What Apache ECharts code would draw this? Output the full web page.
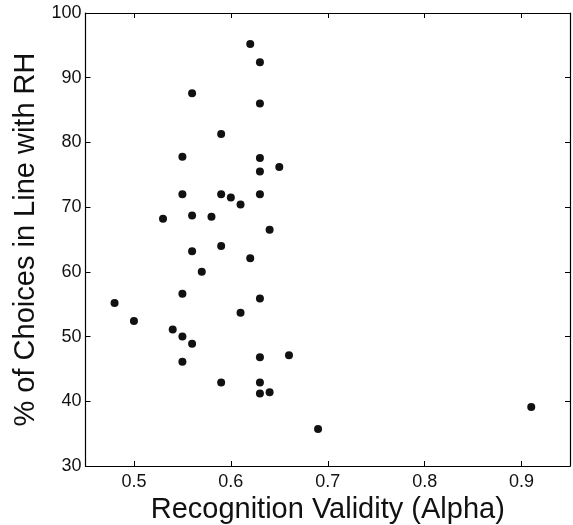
<!DOCTYPE html>
<html>
<head>
<meta charset="utf-8">
<script src="https://cdn.jsdelivr.net/npm/echarts@6/dist/echarts.min.js"></script>
<style>
  html, body { margin: 0; padding: 0; background: #fff; }
  #main { width: 573px; height: 525px; }
</style>
</head>
<body>
<div id="main"></div>
<script>
// recognition validity (alpha) vs % choices in line with RH
var alpha = [0.62, 0.63, 0.56, 0.63, 0.59, 0.55, 0.63, 0.65, 0.63, 0.55,
             0.59, 0.60, 0.61, 0.63, 0.53, 0.56, 0.58, 0.64, 0.56, 0.59,
             0.62, 0.57, 0.55, 0.48, 0.63, 0.50, 0.61, 0.54, 0.55, 0.56,
             0.55, 0.63, 0.66, 0.59, 0.63, 0.63, 0.64, 0.69, 0.91];
var pctRH = [95.2, 92.4, 87.6, 86.0, 81.3, 77.8, 77.6, 76.2, 75.5, 72.0,
             72.0, 71.5, 70.4, 72.0, 68.2, 68.7, 68.5, 66.5, 63.2, 64.0,
             62.1, 60.0, 56.6, 55.2, 55.9, 52.4, 53.7, 51.1, 50.0, 48.9,
             46.1, 46.8, 47.1, 42.9, 42.9, 41.2, 41.4, 35.7, 39.1];

var xTicks = [0.5, 0.6, 0.7, 0.8, 0.9];

var points = alpha.map(function (a, i) { return [a, pctRH[i]]; });

var font = 'Liberation Sans, Arial, Helvetica, sans-serif';
var myChart = echarts.init(document.getElementById('main'));

var boxLine = { show: true, onZero: false, lineStyle: { color: '#000', width: 1.2 } };
var yTick = { show: true, inside: true, length: 5, lineStyle: { color: '#000', width: 1 } };
var xTick = { show: true, inside: true, length: 5, customValues: xTicks, lineStyle: { color: '#000', width: 1 } };

var option = {
    animation: false,
    backgroundColor: '#fff',
    grid: { left: 85.5, right: 3, top: 13, bottom: 59, outerBoundsMode: 'none' },
    xAxis: [
        {
            type: 'value',
            min: 0.45,
            max: 0.95,
            position: 'bottom',
            name: 'Recognition Validity (Alpha)',
            nameLocation: 'middle',
            nameGap: 14,
            nameTextStyle: { fontFamily: font, fontSize: 29, color: '#111' },
            axisLine: boxLine,
            axisTick: xTick,
            splitLine: { show: false },
            axisLabel: {
                fontFamily: font, fontSize: 18, color: '#111', margin: 7,
                customValues: xTicks,
                formatter: function (v) { return v.toFixed(1); }
            }
        },
        {
            type: 'value',
            min: 0.45,
            max: 0.95,
            position: 'top',
            axisLine: boxLine,
            axisTick: xTick,
            axisLabel: { show: false },
            splitLine: { show: false }
        }
    ],
    yAxis: [
        {
            type: 'value',
            min: 30,
            max: 100,
            interval: 10,
            position: 'left',
            name: '% of Choices in Line with RH',
            nameLocation: 'middle',
            nameGap: 42,
            nameTextStyle: { fontFamily: font, fontSize: 29, color: '#111' },
            axisLine: boxLine,
            axisTick: yTick,
            splitLine: { show: false },
            axisLabel: { fontFamily: font, fontSize: 18, color: '#111', margin: 4 }
        },
        {
            type: 'value',
            min: 30,
            max: 100,
            interval: 10,
            position: 'right',
            axisLine: boxLine,
            axisTick: yTick,
            axisLabel: { show: false },
            splitLine: { show: false }
        }
    ],
    series: [
        {
            type: 'scatter',
            data: points,
            symbol: 'circle',
            symbolSize: 8,
            itemStyle: { color: '#111', opacity: 1 }
        }
    ]
};

myChart.setOption(option);
</script>
</body>
</html>
